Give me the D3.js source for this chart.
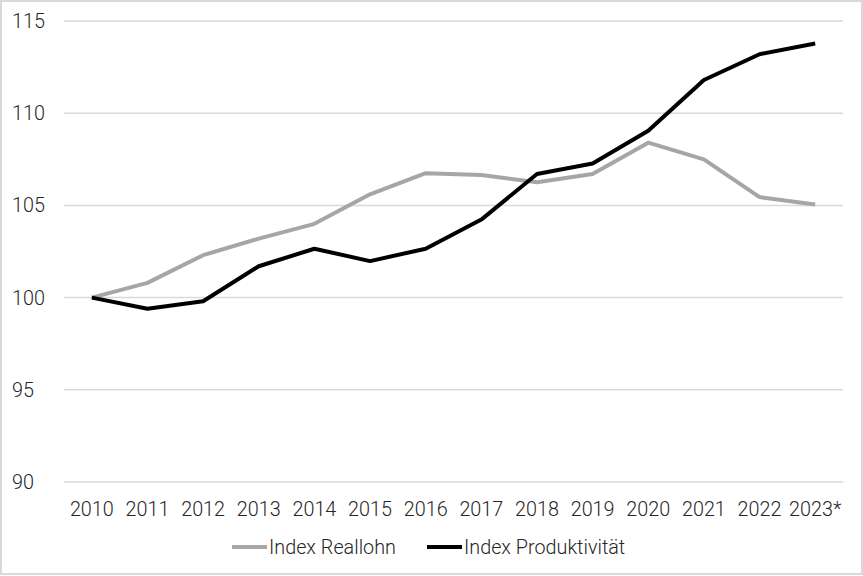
<!DOCTYPE html>
<html><head><meta charset="utf-8">
<script src="https://cdn.jsdelivr.net/npm/d3@7"></script>
<style>body{margin:0;background:#fff}svg{display:block}text{font-family:Roboto,sans-serif;font-weight:300;fill:#262626}</style>
</head><body>
<script>
const years = ["2010","2011","2012","2013","2014","2015","2016","2017","2018","2019","2020","2021","2022","2023*"];
const reallohn = [100,100.8,102.3,103.2,104.0,105.6,106.75,106.65,106.25,106.7,108.4,107.5,105.45,105.05];
const produktivitaet = [100,99.4,99.8,101.7,102.65,101.98,102.65,104.23,106.7,107.27,109.05,111.8,113.2,113.78];
const yTicks = [90,95,100,105,110,115];
const seriesNames = ["Index Reallohn","Index Produktivität"];
const seriesColors = ["#a6a6a6","#000000"];

const W = 863, H = 576;
const svg = d3.select("body").append("svg").attr("width", W).attr("height", H);
svg.append("rect").attr("x",1).attr("y",1).attr("width",W-2).attr("height",H-3)
  .attr("fill","#fff").attr("stroke","#d9d9d9").attr("stroke-width",2);

const x = d3.scalePoint().domain(years).range([64, 843]).padding(0.5);
const y = d3.scaleLinear().domain([90,115]).range([482, 21]);

// gridlines
svg.append("g").selectAll("line").data(yTicks).join("line")
  .attr("x1",64).attr("x2",843).attr("y1",d=>y(d)).attr("y2",d=>y(d))
  .attr("stroke","#d9d9d9").attr("stroke-width",1.5);

// y labels
svg.append("g").selectAll("text").data(yTicks).join("text")
  .attr("x",12).attr("y",d=>y(d)+7)
  .attr("font-size",19.8).text(d=>d);

// x labels
svg.append("g").selectAll("text").data(years).join("text")
  .attr("x",d=>x(d)).attr("y",516)
  .attr("text-anchor","middle").attr("font-size",19.8).text(d=>d);

const line = d3.line().x((d,i)=>x(years[i])).y(d=>y(d));
[reallohn, produktivitaet].forEach((s,k)=>{
  svg.append("path").datum(s).attr("d",line).attr("fill","none")
    .attr("stroke",seriesColors[k]).attr("stroke-width",4)
    .attr("stroke-linejoin","round");
});

// legend
const legX = [232, 427];
seriesNames.forEach((n,k)=>{
  svg.append("line").attr("x1",legX[k]).attr("x2",legX[k]+35).attr("y1",547).attr("y2",547)
    .attr("stroke",seriesColors[k]).attr("stroke-width",4);
  svg.append("text").attr("x",legX[k]+37).attr("y",554)
    .attr("font-size",19.8).text(n);
});
</script>
</body></html>
